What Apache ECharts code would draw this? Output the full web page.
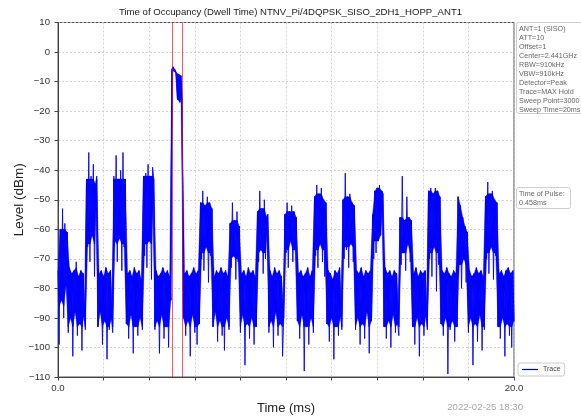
<!DOCTYPE html>
<html>
<head>
<meta charset="utf-8">
<script src="https://cdn.jsdelivr.net/npm/echarts@6/dist/echarts.min.js"></script>
<style>
html,body{margin:0;padding:0;background:#fff;}
#chart{width:581px;height:417px;}
</style>
</head>
<body>
<div id="chart"></div>
<script>
// ---- data ----
var chartTitle = 'Time of Occupancy (Dwell Time) NTNV_Pi/4DQPSK_SISO_2DH1_HOPP_ANT1';
var infoLines = ['ANT=1 (SISO)', 'ATT=10', 'Offset=1', 'Center=2.441GHz', 'RBW=910kHz', 'VBW=910kHz',
  'Detector=Peak', 'Trace=MAX Hold', 'Sweep Point=3000', 'Sweep Time=20ms'];
var pulseLines = ['Time of Pulse:', '0.458ms'];
var pulseMarkersMs = [4.99, 5.448];
var timestamp = '2022-02-25 18:30';
var xTickLabels = ['0.0', '20.0'];
var sampleStepMs = 0.05;

// start time (ms) of each stretch of the trace
var segmentStartMs = [0, 0.45, 1.25, 1.75, 2.45, 3.00, 3.75, 4.25, 4.99, 5.19, 5.50, 6.25, 6.80, 7.55, 8.00, 8.75, 9.25,
  9.95, 10.50, 11.25, 11.80, 12.50, 13.05, 13.80, 14.30, 15.00, 15.55, 16.25, 16.80, 17.55, 18.00, 18.75, 19.30];
// peak / trough levels (dBm) read along each stretch
var segmentLevels = [
  [-74, -99, -60, -84, -53, -90, -58, -79, -61],
  [-95, -73, -90, -75, -103, -74, -88, -71, -96, -76, -92, -74, -101, -75, -89, -94],
  [-43, -66, -34, -71, -42, -62, -38, -76, -45, -42],
  [-93, -75, -88, -74, -99, -76, -91, -73, -104, -75, -94, -74, -90, -95],
  [-42, -64, -35, -71, -43, -63, -40, -74, -34, -66, -43],
  [-92, -75, -97, -74, -89, -76, -102, -73, -93, -75, -96, -74, -90, -77, -94],
  [-42, -69, -41, -73, -38, -64, -42, -77, -39, -43],
  [-94, -74, -91, -76, -102, -75, -89, -73, -97, -75, -93, -74, -100, -76, -84],
  [-6, -5, -6.5, -6],
  [-7, -16, -7.5, -17, -8, -15.5],
  [-90, -75, -96, -74, -91, -76, -103, -75, -89, -73, -95, -75, -99, -74, -92],
  [-51, -70, -47, -74, -52, -66, -49, -78, -51, -69, -53],
  [-93, -76, -88, -74, -98, -75, -91, -73, -96, -75, -101, -74, -90, -76, -94],
  [-58, -73, -51, -69, -57, -77, -54, -71, -59],
  [-95, -75, -89, -74, -106, -76, -92, -73, -97, -75, -90, -74, -99, -76, -93],
  [-54, -71, -47, -67, -53, -75, -50, -70, -56, -55],
  [-95, -74, -91, -76, -100, -73, -88, -75, -96, -74, -92, -76, -103, -90],
  [-55, -68, -51, -73, -54, -64, -52, -71, -54, -67, -56],
  [-91, -75, -97, -74, -89, -76, -108, -75, -93, -73, -99, -76, -90, -74, -95],
  [-49, -69, -45, -73, -48, -65, -46, -71, -50, -76, -51],
  [-92, -74, -98, -75, -90, -77, -104, -74, -93, -75, -96, -73, -89, -94],
  [-50, -70, -41, -67, -49, -73, -48, -65, -51, -71, -52],
  [-94, -74, -90, -75, -99, -73, -92, -76, -97, -74, -88, -75, -102, -74, -91],
  [-55, -70, -47, -68, -46, -64, -45, -62, -47, -48],
  [-93, -73, -97, -75, -91, -74, -100, -76, -89, -74, -95, -75, -92, -96],
  [-56, -72, -42, -68, -57, -74, -49, -65, -56, -71, -57],
  [-93, -75, -99, -73, -90, -76, -103, -74, -92, -75, -96, -74, -89, -94],
  [-47, -70, -46, -76, -48, -66, -46, -81, -47, -72, -49],
  [-92, -74, -96, -75, -90, -73, -109, -75, -94, -76, -91, -74, -98, -75, -93],
  [-49, -72, -52, -80, -56, -70, -59, -78, -61],
  [-95, -74, -90, -76, -106, -75, -92, -73, -98, -75, -89, -74, -101, -76, -94],
  [-49, -70, -44, -75, -48, -66, -47, -77, -50, -69, -51],
  [-93, -75, -97, -74, -90, -76, -103, -74, -92, -73, -96, -75, -100, -74, -91]
];
// limits of the dense (solid) part of each stretch, dBm; isolated spikes beyond them stay thin
var segmentDenseTop = [-60, -73, -43, -73, -43, -73, -42, -73, 0, -7, -73, -51, -73, -57, -73, -53, -73,
  -54, -73, -48, -73, -49, -73, -46, -73, -56, -73, -47, -73, -49, -73, -48, -73];
var segmentDenseBottom = [-86, -93, -65, -93, -65, -93, -65, -93, -20, -17, -93, -68, -93, -70, -93, -68, -93,
  -67, -93, -67, -93, -66, -93, -64, -93, -68, -93, -68, -93, -72, -93, -68, -93];

// ---- build series data ----
var tracePoints = [];
var densePoints = [];
segmentLevels.forEach(function (levels, s) {
  levels.forEach(function (v, k) {
    var t = +(segmentStartMs[s] + k * sampleStepMs).toFixed(3);
    tracePoints.push([t, v]);
    densePoints.push([t, Math.max(segmentDenseBottom[s], Math.min(segmentDenseTop[s], v))]);
  });
});

var FONT = 'Liberation Sans, Arial, sans-serif';
var chart = echarts.init(document.getElementById('chart'), null, {renderer: 'canvas'});

var gLeft = 58, gTop = 22.5, gRight = 514, gBottom = 377;
var yMin = -110, yMax = 10;

var option = {
  animation: false,
  backgroundColor: '#fff',
  grid: {left: gLeft, top: gTop, width: gRight - gLeft, height: gBottom - gTop, show: true,
    containLabel: false, outerBoundsMode: 'none',
    borderColor: '#555', borderWidth: 1, backgroundColor: 'transparent'},
  xAxis: {
    type: 'value', min: 0, max: 20, interval: 2,
    name: 'Time (ms)', nameLocation: 'middle', nameGap: 25, nameMoveOverlap: false,
    nameTextStyle: {fontFamily: FONT, fontSize: 13, color: '#222'},
    axisLine: {show: true, onZero: false, lineStyle: {color: '#444', width: 1}},
    axisTick: {show: true, inside: false, length: 3.5, lineStyle: {color: '#444'}},
    axisLabel: {fontFamily: FONT, fontSize: 9.6, color: '#333', margin: 6,
      formatter: function (v) { return v === 0 ? xTickLabels[0] : (v === 20 ? xTickLabels[1] : ''); }},
    splitLine: {show: true, lineStyle: {color: '#c8c8c8', type: [2, 2], width: 0.8}}
  },
  yAxis: {
    type: 'value', min: yMin, max: yMax, interval: 10,
    name: 'Level (dBm)', nameLocation: 'middle', nameGap: 32, nameRotate: 90, nameMoveOverlap: false,
    nameTextStyle: {fontFamily: FONT, fontSize: 13.5, color: '#222'},
    axisLine: {show: true, onZero: false, lineStyle: {color: '#444', width: 1}},
    axisTick: {show: true, inside: false, length: 3.5, lineStyle: {color: '#444'}},
    axisLabel: {fontFamily: FONT, fontSize: 9.6, color: '#333', margin: 8,
      formatter: function (v) { return String(v).replace('-', '\u2212'); }},
    splitLine: {show: true, lineStyle: {color: '#c8c8c8', type: [2, 2], width: 0.8}}
  },
  legend: {
    data: [{name: 'Trace', icon: 'rect'}],
    left: 518, top: 363, itemWidth: 16, itemHeight: 1.2, itemGap: 5,
    padding: [3, 4, 3, 4], borderColor: '#ccc', borderWidth: 1, borderRadius: 2, backgroundColor: '#fff',
    textStyle: {fontFamily: FONT, fontSize: 7, color: '#444'}
  },
  series: [
    {
      // solid fill between successive peaks and troughs of the dense part of the trace
      name: 'TraceFill', type: 'custom', data: densePoints, z: 2, silent: true,
      encode: {x: 0, y: 1},
      renderItem: function (params, api) {
        var i = params.dataIndex;
        if (i < 2) return null;
        var pts = [densePoints[i - 2], densePoints[i - 1], densePoints[i]].map(function (p) { return api.coord(p); });
        return {type: 'polygon', shape: {points: pts},
          style: {fill: '#0000ff', stroke: '#0000ff', lineWidth: 0.4}};
      }
    },
    {
      name: 'Trace', type: 'line', data: tracePoints, z: 3,
      showSymbol: false, symbol: 'none', sampling: null,
      lineStyle: {color: '#0000ff', width: 0.9},
      itemStyle: {color: '#0000ff'}
    },
    {
      name: 'markers', type: 'custom', z: 5, silent: true,
      data: pulseMarkersMs.map(function (t) { return [t]; }),
      encode: {x: 0},
      renderItem: function (params, api) {
        var a = api.coord([api.value(0), yMax]);
        var b = api.coord([api.value(0), yMin]);
        var px = Math.round(a[0]) + 0.5; // crisp 1px line
        return {type: 'line', shape: {x1: px, y1: a[1], x2: px, y2: b[1]},
          style: {stroke: '#ff0000', lineWidth: 1, opacity: 0.65}};
      }
    }
  ],
  graphic: [
    {type: 'text', x: 290.5, y: 7, z: 11,
      style: {text: chartTitle, font: '9.6px ' + FONT, fill: '#222', textAlign: 'center'}},
    {type: 'rect', left: 516, top: 22, shape: {width: 80, height: 91, r: 2}, z: 10,
      style: {fill: '#fff', stroke: '#cfcfcf', lineWidth: 1}},
    {type: 'text', left: 519, top: 25, z: 11,
      style: {text: infoLines.join('\n'), font: '7.2px ' + FONT, fill: '#666', lineHeight: 8.9}},
    {type: 'rect', left: 516, top: 187, shape: {width: 54, height: 21, r: 2}, z: 10,
      style: {fill: '#fff', stroke: '#cfcfcf', lineWidth: 1}},
    {type: 'text', left: 519, top: 189.5, z: 11,
      style: {text: pulseLines.join('\n'), font: '7.2px ' + FONT, fill: '#666', lineHeight: 8.9}},
    {type: 'text', right: 581 - 523, top: 402, z: 11,
      style: {text: timestamp, font: '9.6px ' + FONT, fill: '#aaa'}}
  ]
};
chart.setOption(option);
</script>
</body>
</html>
